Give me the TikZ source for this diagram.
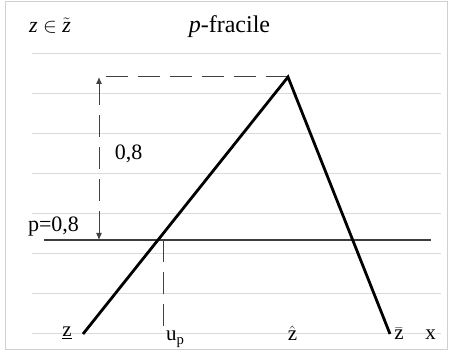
\documentclass[tikz,border=0pt]{standalone}
\usepackage{fontspec}
\setmainfont{Liberation Serif}
\usetikzlibrary{arrows.meta}
\definecolor{gridgray}{HTML}{DADADA}
\definecolor{framegray}{HTML}{D0D0D0}
\definecolor{levelgray}{HTML}{3C3C3C}

\begin{document}
\begin{tikzpicture}[x=1pt, y=-1pt,
    every node/.style={font=\fontsize{22}{26}\selectfont, inner sep=0pt},
    lab/.style={anchor=base},
    small/.style={font=\fontsize{21}{25}\selectfont},
    hline/.style={gridgray, line width=1pt},
    level/.style={levelgray, line width=1.2pt},
    curve/.style={black, line width=2.8pt, line join=miter},
    guide/.style={black!75, line width=1pt, dash pattern=on 22pt off 10pt},
    span/.style={guide, {Latex[length=7pt,width=6pt]}-{Latex[length=7pt,width=6pt]}}
]
\useasboundingbox (0,0) rectangle (451,352);
\draw[framegray, line width=1pt] (5,1.5) rectangle (447.5,349.5);

% Background rulings
\foreach \k in {0,...,7}
    \draw[hline] (32,54+40*\k) -- (441,54+40*\k);

% Key points
\coordinate (zl) at (83,334);
\coordinate (zh) at (288,77);
\coordinate (zr) at (390,334);
\coordinate (at) at (99,77);
\coordinate (ab) at (99,240);
\coordinate (pl) at (44,240);
\coordinate (pr) at (431,240);
\coordinate (ut) at (163,240);
\coordinate (ub) at (163,334);

% Level p and guides
\draw[level] (pl) -- (pr);
\draw[guide] (zh) -- (at);
\draw[span] (at) -- (ab);
\draw[guide] (ut) -- (ub);

% Triangular membership function
\draw[curve] (zl) -- (zh) -- (zr);

% Labels
\node[lab] (member) at (50,33) {\itshape z $\in$ $\tilde{\hbox{\itshape z}}$};
\node[lab] (title) at (229.5,33) {\fontsize{24}{28}\selectfont\textit{p}-fracile};
\node[lab] (height) at (128.5,160) {0,8};
\node[lab] (plevel) at (53.5,232) {p=0,8};
\node[lab, small] (zlow) at (67,337) {\underline{z}};
\node[lab, small, anchor=base west] (upos) at (166,341) {u\textsubscript{p}};
\node[lab, small] (zmode) at (292.5,341) {$\hat{\hbox{z}}$};
\node[lab, small] (zup) at (399,340) {$\bar{\hbox{z}}$};
\node[lab, small] (xaxis) at (430.5,340) {x};
\end{tikzpicture}
\end{document}
